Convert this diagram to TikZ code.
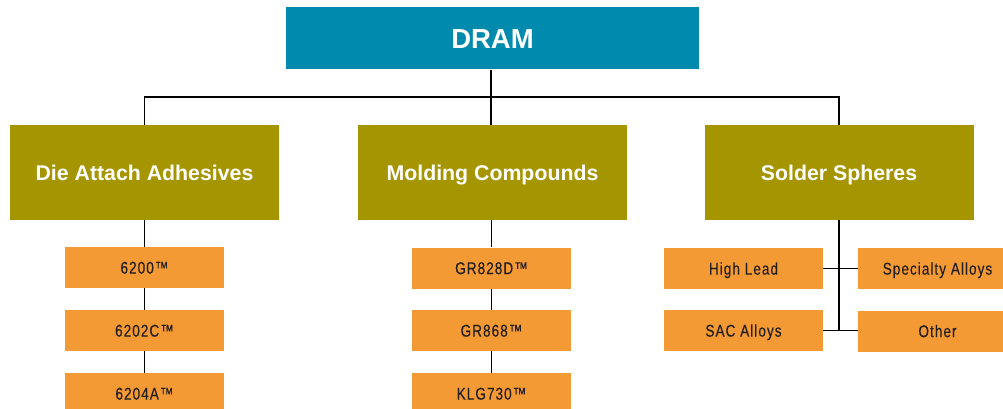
\documentclass[tikz,border=0pt]{standalone}
\usepackage{fontspec}
\setmainfont{Liberation Sans}
\newfontfamily\narrowfont[FakeStretch=0.8,LetterSpace=6,FakeBold=0.15]{Liberation Sans}
\definecolor{dramblue}{HTML}{008AAE}
\definecolor{olive}{HTML}{A59500}
\definecolor{orangebox}{HTML}{F49A35}
\definecolor{darktext}{HTML}{231F20}
\begin{document}
\begin{tikzpicture}[x=1pt,y=-1pt,
  topbox/.style={fill=dramblue,text=white,font=\bfseries\fontsize{27.5}{30}\selectfont,minimum width=413pt,minimum height=62pt,inner sep=0pt,text height=19.8pt,text depth=0pt},
  catbox/.style={fill=olive,text=white,font=\bfseries\fontsize{21.3}{24}\selectfont,minimum width=269pt,minimum height=95pt,inner sep=0pt,text height=15.3pt,text depth=0pt},
  itembox/.style={fill=orangebox,text=darktext,font=\narrowfont\fontsize{17}{20}\selectfont,minimum width=159pt,minimum height=41pt,inner sep=0pt,text height=12.2pt,text depth=0pt},
  conn/.style={draw=black,line width=1.2pt}]
\useasboundingbox (0,0) rectangle (1003,409);
\clip (0,0) rectangle (1003,409);
\node[topbox] (dram) at (492.5,38.5) {DRAM};
\node[catbox] (die) at (144.5,172.5) {Die Attach Adhesives};
\node[catbox] (mold) at (492.5,172.5) {Molding Compounds};
\node[catbox] (solder) at (839,172.5) {Solder Spheres};
\node[itembox] (a1) at (144.5,267.5) {6200™};
\node[itembox] (a2) at (144.5,330.5) {6202C™};
\node[itembox] (a3) at (144.5,393.5) {6204A™};
\node[itembox] (b1) at (491.5,268) {GR828D™};
\node[itembox] (b2) at (491.5,330.5) {GR868™};
\node[itembox] (b3) at (491.5,393.5) {KLG730™};
\node[itembox] (hl) at (743.5,268.5) {High Lead};
\node[itembox] (sac) at (743.5,330.5) {SAC Alloys};
\node[itembox] (spec) at (937.5,268.5) {Specialty Alloys};
\node[itembox] (oth) at (937.5,331) {Other};
\coordinate (bus) at (0,97);
\coordinate (send) at (839,331);
\draw[conn] ([xshift=-1.5pt]dram.south) -- ([xshift=-1.5pt]mold.north);
\draw[conn] (die.north) -- (die.north |- bus) -- (solder.north |- bus) -- (solder.north);
\draw[conn] (die.south) -- (a1.north);
\draw[conn] (a1.south) -- (a2.north);
\draw[conn] (a2.south) -- (a3.north);
\draw[conn] (mold.south -| b1.north) -- (b1.north);
\draw[conn] (b1.south) -- (b2.north);
\draw[conn] (b2.south) -- (b3.north);
\draw[conn] (solder.south) -- (send);
\draw[conn] (hl.east) -- (spec.west);
\draw[conn] (sac.east) -- (sac.east -| oth.west);
\end{tikzpicture}
\end{document}
